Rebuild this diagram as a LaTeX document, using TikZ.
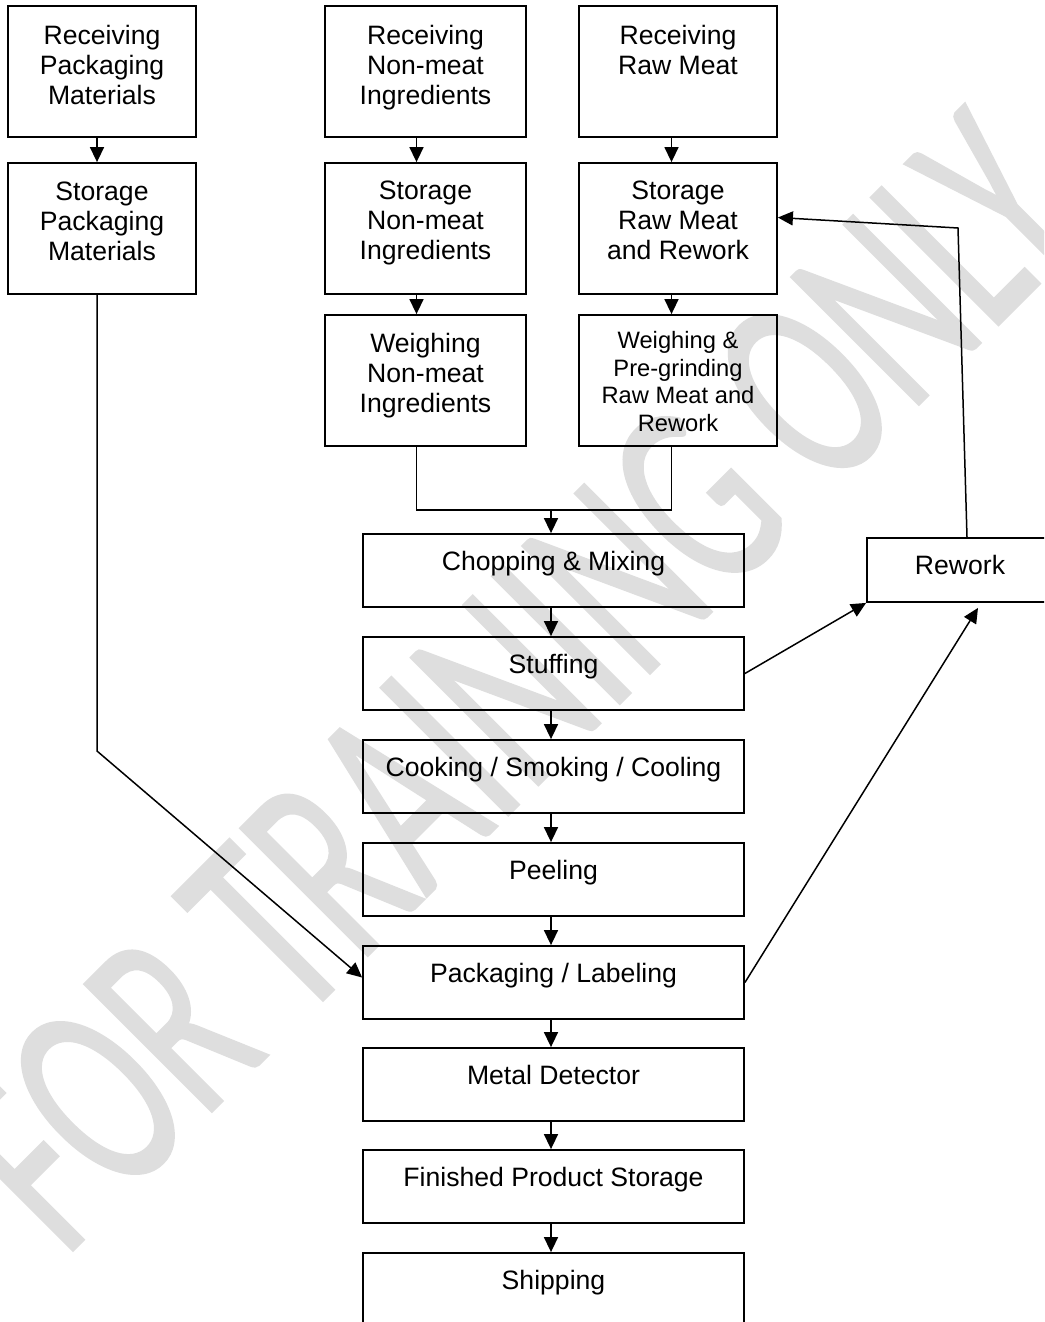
\documentclass[tikz,border=0pt]{standalone}
\usepackage{fontspec}
\setmainfont{Liberation Sans}
\newfontfamily\wmfont[FakeBold=1]{Carlito}
\usetikzlibrary{arrows.meta}
\definecolor{wmgray}{RGB}{222,222,222}
\begin{document}
\begin{tikzpicture}[x=1pt,y=-1pt,
  box/.style={draw,line width=1.8pt,inner sep=0pt,minimum width=#1},
  tall/.style={minimum height=131pt},
  flat/.style={minimum height=73pt},
  lbl/.style={inner sep=0pt,align=center,anchor=north,font=\fontsize{26.6}{30}\selectfont},
  smlbl/.style={inner sep=0pt,align=center,anchor=north,font=\fontsize{23.7}{27.6}\selectfont},
  ln/.style={line width=1.5pt},
  arr/.style={line width=1.5pt,-{Triangle[length=15pt,width=14pt]}}]
\useasboundingbox (0,0) rectangle (1044,1322);
\clip (0,0) rectangle (1044,1322);
\fill[white] (0,0) rectangle (1044,1322);
% watermark
\begin{scope}[cm={1.242,1.242,-1.980,1.980,(64pt,-1259pt)}]
\node[transform shape,anchor=base west,inner sep=0pt,text=wmgray,font=\wmfont\fontsize{100}{120}\selectfont] (wmk) at (0,0) {FOR TRAINING ONLY};
\end{scope}
% top boxes
\node[box=188pt,tall] (RPM) at (102,71.5) {};
\node[box=188pt,tall] (SPM) at (102,228.5) {};
\node[box=201pt,tall] (RNI) at (425.5,71.5) {};
\node[box=201pt,tall] (SNI) at (425.5,228.5) {};
\node[box=201pt,tall] (WNI) at (425.5,380.5) {};
\node[box=198pt,tall] (RRM) at (678,71.5) {};
\node[box=198pt,tall] (SRM) at (678,228.5) {};
\node[box=198pt,tall] (WRM) at (678,380.5) {};
% main column
\node[box=381pt,flat] (CM) at (553.5,570.5) {};
\node[box=381pt,flat] (STF) at (553.5,673.5) {};
\node[box=381pt,flat] (CSC) at (553.5,776.5) {};
\node[box=381pt,flat] (PEL) at (553.5,879.5) {};
\node[box=381pt,flat] (PKG) at (553.5,982.5) {};
\node[box=381pt,flat] (MD) at (553.5,1084.5) {};
\node[box=381pt,flat] (FPS) at (553.5,1186.5) {};
\node[box=381pt,flat] (SHP) at (553.5,1289.5) {};
\node[box=186pt,minimum height=64pt] (RW) at (960,570) {};
% labels
\node[lbl] (RPMt) at ([yshift=-20pt]RPM.north) {Receiving\\Packaging\\Materials};
\node[lbl] (SPMt) at ([yshift=-20pt]SPM.north) {Storage\\Packaging\\Materials};
\node[lbl] (RNIt) at ([yshift=-20pt]RNI.north) {Receiving\\Non-meat\\Ingredients};
\node[lbl] (SNIt) at ([yshift=-19pt]SNI.north) {Storage\\Non-meat\\Ingredients};
\node[lbl] (WNIt) at ([yshift=-19pt]WNI.north) {Weighing\\Non-meat\\Ingredients};
\node[lbl] (RRMt) at ([yshift=-20pt]RRM.north) {Receiving\\Raw Meat};
\node[lbl] (SRMt) at ([yshift=-19pt]SRM.north) {Storage\\Raw Meat\\and Rework};
\node[smlbl] (WRMt) at ([yshift=-17pt]WRM.north) {Weighing \&\\Pre-grinding\\Raw Meat and\\Rework};
\node[lbl] (CMt) at ([yshift=-18pt]CM.north) {Chopping \& Mixing};
\node[lbl] (STFt) at ([yshift=-18pt]STF.north) {Stuffing};
\node[lbl] (CSCt) at ([yshift=-18pt]CSC.north) {Cooking / Smoking / Cooling};
\node[lbl] (PELt) at ([yshift=-18pt]PEL.north) {Peeling};
\node[lbl] (PKGt) at ([yshift=-18pt]PKG.north) {Packaging / Labeling};
\node[lbl] (MDt) at ([yshift=-18pt]MD.north) {Metal Detector};
\node[lbl] (FPSt) at ([yshift=-18pt]FPS.north) {Finished Product Storage};
\node[lbl] (SHPt) at ([yshift=-18pt]SHP.north) {Shipping};
\node[lbl] (RWt) at ([yshift=-18pt]RW.north) {Rework};
% vertical arrows in upper columns
\draw[arr] ([xshift=-5pt]RPM.south) -- ([xshift=-5pt]SPM.north);
\draw[arr] ([xshift=-9pt]RNI.south) -- ([xshift=-9pt]SNI.north);
\draw[arr] ([xshift=-9pt]SNI.south) -- ([xshift=-9pt]WNI.north);
\draw[arr] ([xshift=-6.5pt]RRM.south) -- ([xshift=-6.5pt]SRM.north);
\draw[arr] ([xshift=-6.5pt]SRM.south) -- ([xshift=-6.5pt]WRM.north);
% merge
\coordinate (mrg) at (551,510);
\draw[ln] ([xshift=-9pt]WNI.south) |- (mrg) -| ([xshift=-6.5pt]WRM.south);
\draw[arr] (mrg) -- (mrg |- CM.north);
% main column arrows
\draw[arr] ([xshift=-2.5pt]CM.south) -- ([xshift=-2.5pt]STF.north);
\draw[arr] ([xshift=-2.5pt]STF.south) -- ([xshift=-2.5pt]CSC.north);
\draw[arr] ([xshift=-2.5pt]CSC.south) -- ([xshift=-2.5pt]PEL.north);
\draw[arr] ([xshift=-2.5pt]PEL.south) -- ([xshift=-2.5pt]PKG.north);
\draw[arr] ([xshift=-2.5pt]PKG.south) -- ([xshift=-2.5pt]MD.north);
\draw[arr] ([xshift=-2.5pt]MD.south) -- ([xshift=-2.5pt]FPS.north);
\draw[arr] ([xshift=-2.5pt]FPS.south) -- ([xshift=-2.5pt]SHP.north);
% packaging materials to packaging
\coordinate (bend) at (97,751);
\draw[arr] ([xshift=-5pt]SPM.south) -- (bend) -- ([yshift=5pt]PKG.west);
% rework loops
\draw[arr] (STF.east) -- (RW.south west);
\draw[arr] (PKG.east) -- ([xshift=18pt,yshift=-5pt]RW.south);
\coordinate (rb) at (958,228);
\draw[arr] ([xshift=7pt]RW.north) -- (rb) -- ([yshift=11pt]SRM.east);
\end{tikzpicture}
\end{document}
